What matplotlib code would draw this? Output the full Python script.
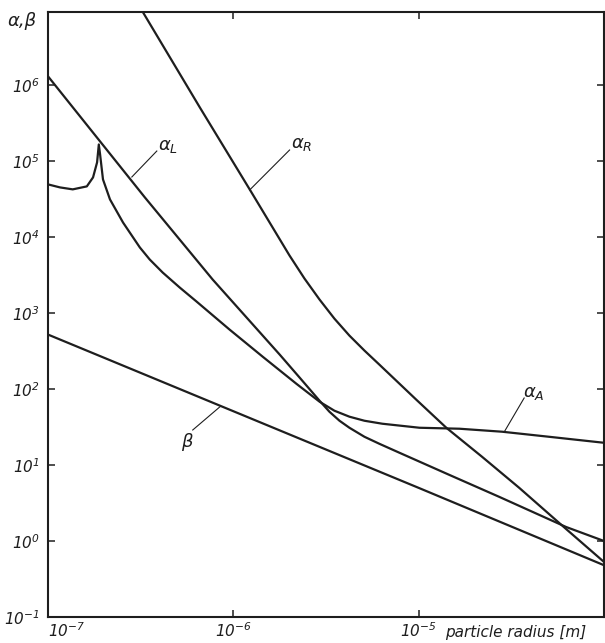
import matplotlib
matplotlib.use('Agg')
import matplotlib.pyplot as plt
from matplotlib.ticker import NullLocator

plt.rcParams['font.family'] = 'DejaVu Sans'
plt.rcParams['mathtext.fontset'] = 'custom'
plt.rcParams['mathtext.rm'] = 'DejaVu Sans:italic'
plt.rcParams['mathtext.it'] = 'DejaVu Sans:italic'
plt.rcParams['mathtext.sf'] = 'DejaVu Sans:italic'

INK = '#1e1e1e'

# beta ~ 1/r
r_beta = [1.0e-7, 1.0e-6, 1.0e-5, 1.0e-4]
beta = [520, 51, 5.0, 0.48]

# alpha_L
r_L = [1.0e-7, 3.33e-7, 7.74e-7, 1.78e-6, 2.28e-6, 2.92e-6, 3.30e-6,
       3.74e-6, 4.23e-6, 5.10e-6, 6.14e-6, 7.87e-6, 1.46e-5, 2.72e-5,
       6.24e-5, 1.0e-4]
alpha_L = [1.30e6, 3.32e4, 2.75e3, 283, 141, 70, 50.2,
           38.2, 30.9, 23.5, 19.0, 14.5, 7.43, 3.81,
           1.53, 1.0]

# alpha_R
r_R = [2.95e-7, 6.59e-7, 1.225e-6, 2.01e-6, 2.42e-6, 2.92e-6, 3.51e-6,
       4.23e-6, 5.10e-6, 6.14e-6, 9.71e-6, 1.41e-5, 2.20e-5, 3.49e-5,
       6.24e-5, 1.0e-4]
alpha_R = [1.35e7, 5.08e5, 4.23e4, 5.70e3, 2.84e3, 1.50e3, 843,
           504, 320, 209, 72.3, 30.9, 12.8, 5.0,
           1.44, 0.53]

# alpha_A (with the resonance spike)
r_A = [1.0e-7, 1.16e-7, 1.36e-7, 1.62e-7, 1.75e-7, 1.84e-7, 1.88e-7,
       1.91e-7, 1.98e-7, 2.16e-7, 2.54e-7, 3.13e-7, 3.54e-7, 4.16e-7,
       5.14e-7, 6.34e-7, 9.55e-7, 1.44e-6, 2.19e-6, 2.92e-6, 3.51e-6,
       4.23e-6, 5.10e-6, 6.37e-6, 1.01e-5, 1.66e-5, 2.82e-5, 5.06e-5,
       1.0e-4]
alpha_A = [4.92e4, 4.49e4, 4.23e4, 4.63e4, 6.08e4, 9.58e4, 1.65e5,
           1.22e5, 5.72e4, 3.12e4, 1.55e4, 7.28e3, 5.05e3, 3.40e3,
           2.16e3, 1.41e3, 604, 266, 117, 68, 51.8,
           43.2, 38.2, 34.9, 30.9, 30.0, 27.4, 23.5,
           19.6]

x_ticks = [1e-7, 1e-6, 1e-5]
x_ticklabels = ['$10^{-7}$', '$10^{-6}$', '$10^{-5}$']
y_ticks = [1e-1, 1e0, 1e1, 1e2, 1e3, 1e4, 1e5, 1e6]
y_ticklabels = ['$10^{-1}$', '$10^{0}$', '$10^{1}$', '$10^{2}$',
                '$10^{3}$', '$10^{4}$', '$10^{5}$', '$10^{6}$']

fig = plt.figure(figsize=(6.05, 6.43), dpi=100)
ax = fig.add_axes([48 / 605, 26 / 643, 556 / 605, 605 / 643])

lw = 1.6
ax.plot(r_beta, beta, color=INK, lw=lw)
ax.plot(r_L, alpha_L, color=INK, lw=lw)
ax.plot(r_R, alpha_R, color=INK, lw=lw)
ax.plot(r_A, alpha_A, color=INK, lw=lw)

ax.set_xscale('log')
ax.set_yscale('log')
ax.set_xlim(1e-7, 1e-4)
ax.set_ylim(1e-1, 10 ** 6.96)

ax.set_xticks(x_ticks)
ax.set_xticklabels(x_ticklabels)
ax.set_yticks(y_ticks)
ax.set_yticklabels(y_ticklabels)
ax.xaxis.set_minor_locator(NullLocator())
ax.yaxis.set_minor_locator(NullLocator())
ax.tick_params(direction='in', length=5, width=1.1, color=INK,
               top=True, right=True, labelsize=11, labelcolor=INK)
ax.tick_params(axis='y', pad=6)
ax.tick_params(axis='x', pad=3)
ax.get_xticklabels()[0].set_horizontalalignment('left')

for sp in ax.spines.values():
    sp.set_linewidth(1.5)
    sp.set_color(INK)

# curve labels with pointer lines (axes fraction)
pointers = {
    'L': ((0.1508, 0.7273), (0.1957, 0.7702)),
    'R': ((0.3627, 0.7058), (0.4345, 0.7719)),
    'A': ((0.8205, 0.3058), (0.8564, 0.3620)),
    'b': ((0.3088, 0.3471), (0.2603, 0.3091)),
}
for (p0, p1) in pointers.values():
    ax.plot([p0[0], p1[0]], [p0[1], p1[1]], transform=ax.transAxes,
            color=INK, lw=0.8)

ax.text(0.1975, 0.772, r'$\alpha_L$', transform=ax.transAxes, fontsize=13,
        ha='left', va='baseline', color=INK)
ax.text(0.4363, 0.7752, r'$\alpha_R$', transform=ax.transAxes, fontsize=13,
        ha='left', va='baseline', color=INK)
ax.text(0.8546, 0.3636, r'$\alpha_A$', transform=ax.transAxes, fontsize=13,
        ha='left', va='baseline', color=INK)
ax.text(0.2621, 0.3074, r'$\beta$', transform=ax.transAxes, fontsize=13,
        ha='right', va='top', color=INK)

fig.text(0.012, 1 - 26 / 643, 'α,β', fontsize=13, fontstyle='italic',
         ha='left', va='baseline', color=INK)
fig.text(445 / 605, 6 / 643, 'particle radius [m]', fontsize=11,
         fontstyle='italic', ha='left', va='baseline', color=INK)

fig.savefig('out.png', dpi=100)
